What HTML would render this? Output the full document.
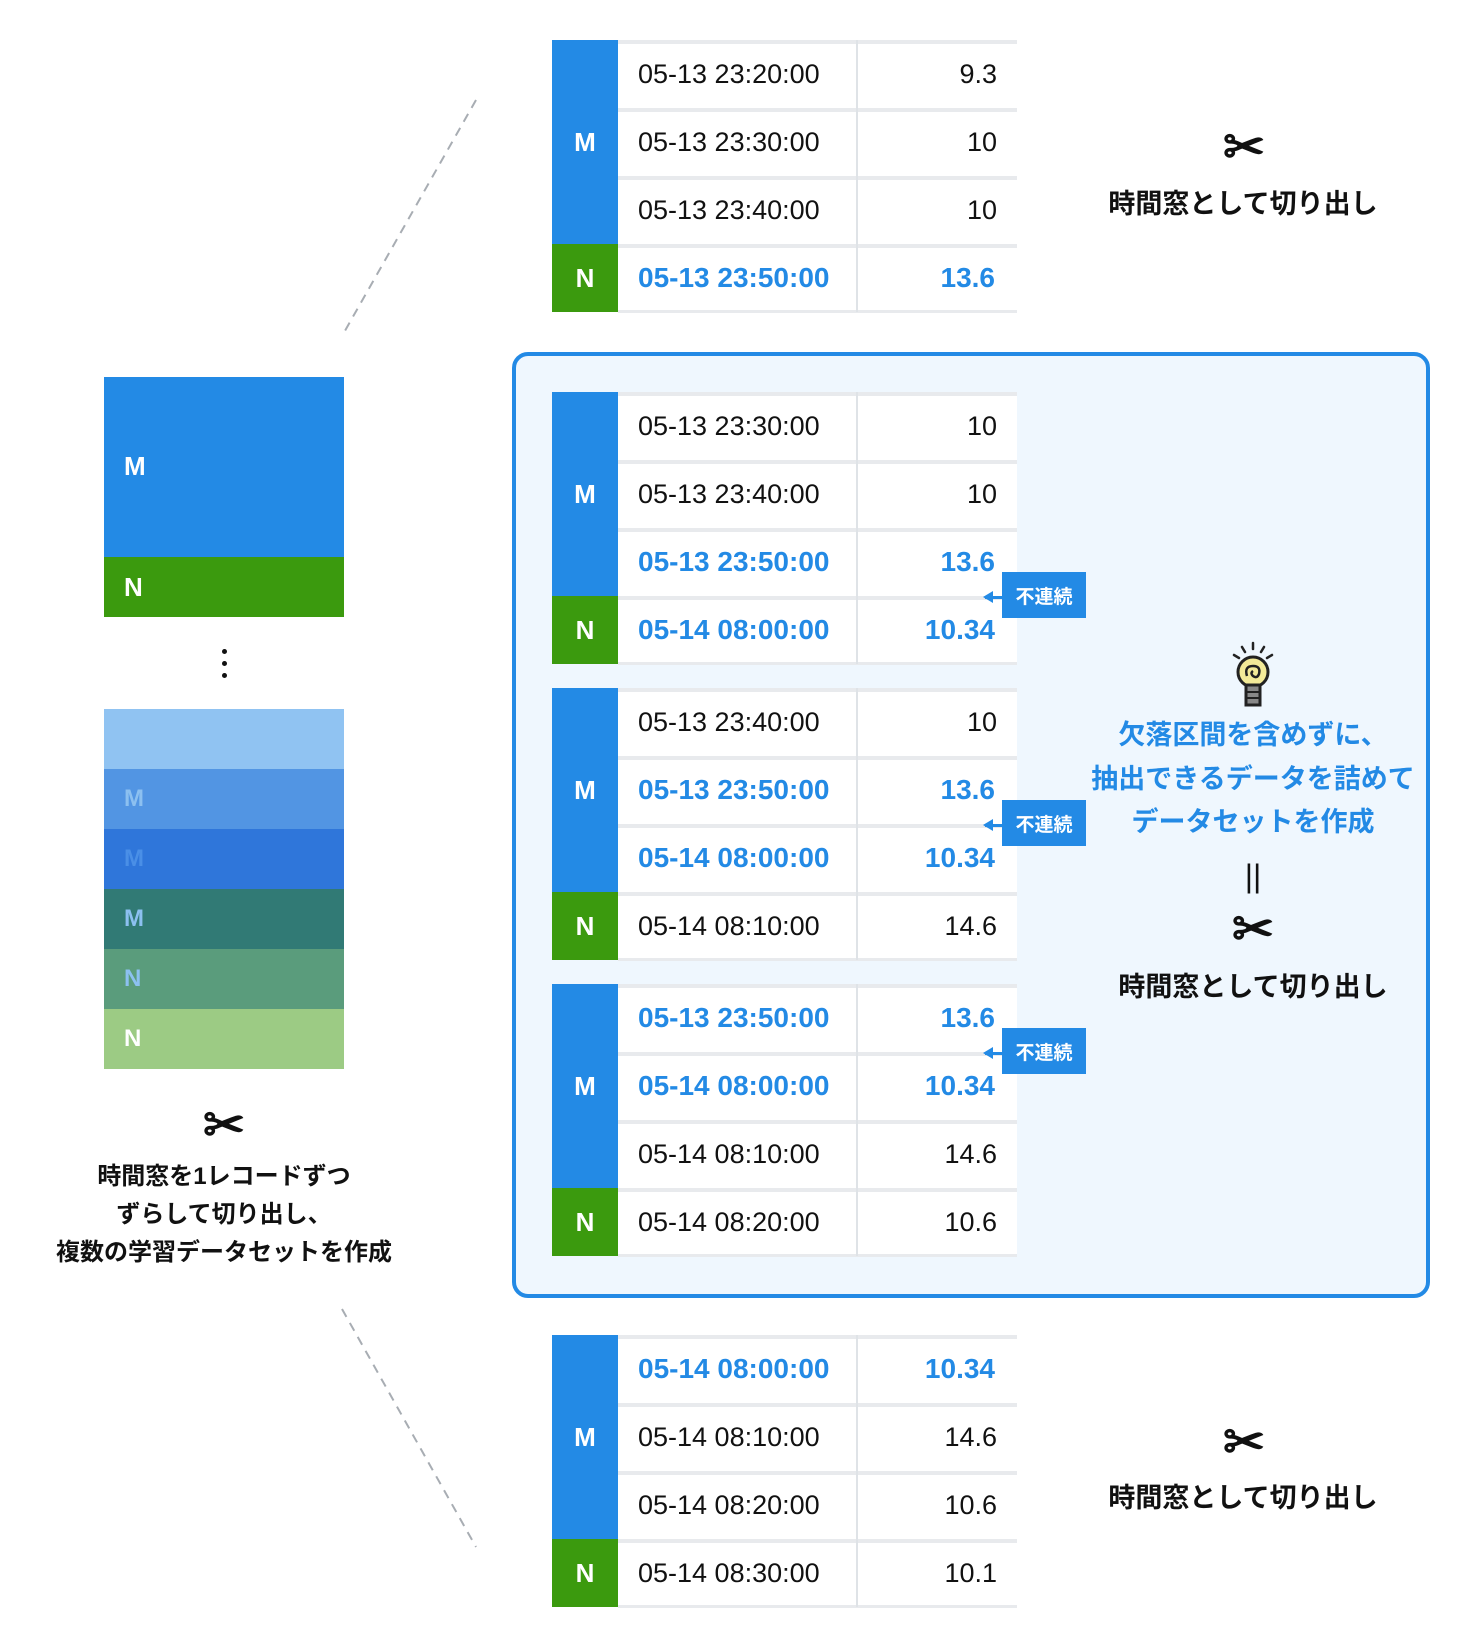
<!DOCTYPE html>
<html><head><meta charset="utf-8"><style>
body{margin:0;width:1472px;height:1648px;background:#fff;position:relative;overflow:hidden;font-family:"Liberation Sans","Noto Sans CJK JP",sans-serif;}
.a{position:absolute;}
.lab{position:absolute;left:552px;width:66px;color:#fff;font-weight:bold;font-size:26px;display:flex;align-items:center;justify-content:center;}
.M{background:#238ae5;}.N{background:#3b9a0e;}
.row{position:absolute;left:618px;width:399px;height:64px;border-top:4px solid #e8eaed;background:#fff;font-size:27px;color:#111;}
.row .t{position:absolute;left:20px;top:-2px;line-height:64px;}
.row .v{position:absolute;right:20px;top:-2px;line-height:64px;}
.row.b{color:#238ae5;font-weight:bold;font-size:28px;}
.row.b .v{right:22px;}
.bot{position:absolute;left:618px;width:399px;height:3px;background:#e8eaed;}
.div{position:absolute;left:856px;width:2px;background:#dfe3e7;}
.tag{position:absolute;left:1002px;width:84px;height:46px;background:#238ae5;color:#fff;font-size:19px;font-weight:bold;display:flex;align-items:center;justify-content:center;}
.arr{position:absolute;left:985px;width:17px;height:3px;background:#238ae5;}
.arr:before{content:"";position:absolute;left:-2px;top:-5px;border-right:10px solid #238ae5;border-top:6.5px solid transparent;border-bottom:6.5px solid transparent;}
.sc{position:absolute;font-family:"DejaVu Sans",sans-serif;font-size:50px;color:#111;text-align:center;width:80px;font-weight:bold;-webkit-text-stroke:1.5px #111;}
.ct{position:absolute;text-align:center;font-weight:bold;color:#111;}
.st{position:absolute;left:104px;width:240px;height:60px;}
.sl{position:absolute;left:20px;top:0;line-height:60px;font-size:24px;font-weight:bold;}
</style></head><body>

<svg class="a" style="left:0;top:0" width="1472" height="1648">
<line x1="476" y1="100" x2="342" y2="336" stroke="#a8adb3" stroke-width="2" stroke-dasharray="9,7"/>
<line x1="342" y1="1309" x2="476" y2="1547" stroke="#a8adb3" stroke-width="2" stroke-dasharray="9,7"/>
</svg>

<div class="a M" style="left:104px;top:377px;width:240px;height:180px"></div>
<div class="a N" style="left:104px;top:557px;width:240px;height:60px"></div>
<div class="a" style="left:124px;top:451px;color:#fff;font-weight:bold;font-size:26px">M</div>
<div class="a" style="left:124px;top:572px;color:#fff;font-weight:bold;font-size:26px">N</div>
<div class="a" style="left:222px;top:649px;width:5px;height:5px;border-radius:50%;background:#111"></div>
<div class="a" style="left:222px;top:661px;width:5px;height:5px;border-radius:50%;background:#111"></div>
<div class="a" style="left:222px;top:673px;width:5px;height:5px;border-radius:50%;background:#111"></div>
<div class="st" style="top:709px;background:#90c3f2"></div>
<div class="st" style="top:769px;background:#5295e3"><span class="sl" style="color:#8cc0f0">M</span></div>
<div class="st" style="top:829px;background:#2f76da"><span class="sl" style="color:#4a8fe6">M</span></div>
<div class="st" style="top:889px;background:#317a75"><span class="sl" style="color:#8cc0f0">M</span></div>
<div class="st" style="top:949px;background:#5a9c7c"><span class="sl" style="color:#8cc0f0">N</span></div>
<div class="st" style="top:1009px;background:#9ccb84"><span class="sl" style="color:#fff">N</span></div>
<div class="sc" style="left:184px;top:1096px">✂</div>
<div class="ct" style="left:24px;width:400px;top:1158px;font-size:24px;line-height:38px">時間窓を1レコードずつ<br>ずらして切り出し、<br>複数の学習データセットを作成</div>

<div class="lab M" style="top:40px;height:204px">M</div>
<div class="lab N" style="top:244px;height:68px">N</div>
<div class="row" style="top:40px"><span class="t">05-13 23:20:00</span><span class="v">9.3</span></div>
<div class="row" style="top:108px"><span class="t">05-13 23:30:00</span><span class="v">10</span></div>
<div class="row" style="top:176px"><span class="t">05-13 23:40:00</span><span class="v">10</span></div>
<div class="row b" style="top:244px"><span class="t">05-13 23:50:00</span><span class="v">13.6</span></div>
<div class="bot" style="top:310px"></div>
<div class="div" style="top:40px;height:272px"></div>
<div class="sc" style="left:1204px;top:118px">✂</div>
<div class="ct" style="left:1093px;width:300px;top:182px;font-size:27px">時間窓として切り出し</div>

<div class="a" style="left:512px;top:352px;width:910px;height:938px;border:4px solid #238ae5;border-radius:16px;background:#eff7fe"></div>

<div class="lab M" style="top:392px;height:204px">M</div>
<div class="lab N" style="top:596px;height:68px">N</div>
<div class="row" style="top:392px"><span class="t">05-13 23:30:00</span><span class="v">10</span></div>
<div class="row" style="top:460px"><span class="t">05-13 23:40:00</span><span class="v">10</span></div>
<div class="row b" style="top:528px"><span class="t">05-13 23:50:00</span><span class="v">13.6</span></div>
<div class="row b" style="top:596px"><span class="t">05-14 08:00:00</span><span class="v">10.34</span></div>
<div class="bot" style="top:662px"></div>
<div class="div" style="top:392px;height:272px"></div>
<div class="arr" style="top:596px"></div><div class="tag" style="top:572px">不連続</div>

<div class="lab M" style="top:688px;height:204px">M</div>
<div class="lab N" style="top:892px;height:68px">N</div>
<div class="row" style="top:688px"><span class="t">05-13 23:40:00</span><span class="v">10</span></div>
<div class="row b" style="top:756px"><span class="t">05-13 23:50:00</span><span class="v">13.6</span></div>
<div class="row b" style="top:824px"><span class="t">05-14 08:00:00</span><span class="v">10.34</span></div>
<div class="row" style="top:892px"><span class="t">05-14 08:10:00</span><span class="v">14.6</span></div>
<div class="bot" style="top:958px"></div>
<div class="div" style="top:688px;height:272px"></div>
<div class="arr" style="top:824px"></div><div class="tag" style="top:800px">不連続</div>

<div class="lab M" style="top:984px;height:204px">M</div>
<div class="lab N" style="top:1188px;height:68px">N</div>
<div class="row b" style="top:984px"><span class="t">05-13 23:50:00</span><span class="v">13.6</span></div>
<div class="row b" style="top:1052px"><span class="t">05-14 08:00:00</span><span class="v">10.34</span></div>
<div class="row" style="top:1120px"><span class="t">05-14 08:10:00</span><span class="v">14.6</span></div>
<div class="row" style="top:1188px"><span class="t">05-14 08:20:00</span><span class="v">10.6</span></div>
<div class="bot" style="top:1254px"></div>
<div class="div" style="top:984px;height:272px"></div>
<div class="arr" style="top:1052px"></div><div class="tag" style="top:1028px">不連続</div>

<svg class="a" style="left:1223px;top:640px" width="60" height="70">
<g stroke="#222" stroke-width="2.5" stroke-linecap="round">
<line x1="30" y1="3" x2="30" y2="9"/><line x1="19" y1="7" x2="22" y2="12"/><line x1="41" y1="7" x2="38" y2="12"/>
<line x1="11" y1="15" x2="16" y2="18"/><line x1="49" y1="15" x2="44" y2="18"/></g>
<circle cx="30" cy="32" r="15" fill="#f3ea98" stroke="#222" stroke-width="3"/>
<path d="M24 36 q-3 -10 6 -10 q8 0 6 8 q-2 5 -6 2 q-3-3 0-5" fill="none" stroke="#222" stroke-width="2.5"/>
<rect x="23" y="45" width="14" height="20" fill="#888" stroke="#222" stroke-width="3"/>
<line x1="23" y1="52" x2="37" y2="52" stroke="#222" stroke-width="2"/><line x1="23" y1="58" x2="37" y2="58" stroke="#222" stroke-width="2"/>
</svg>
<div class="ct" style="left:1073px;width:360px;top:714px;font-size:27px;line-height:43.5px;color:#238ae5">欠落区間を含めずに、<br>抽出できるデータを詰めて<br>データセットを作成</div>
<div class="ct" style="left:1213px;width:80px;top:858px;font-size:32px;font-weight:normal">||</div>
<div class="sc" style="left:1213px;top:900px">✂</div>
<div class="ct" style="left:1098px;width:310px;top:965px;font-size:27px">時間窓として切り出し</div>

<div class="lab M" style="top:1335px;height:204px">M</div>
<div class="lab N" style="top:1539px;height:68px">N</div>
<div class="row b" style="top:1335px"><span class="t">05-14 08:00:00</span><span class="v">10.34</span></div>
<div class="row" style="top:1403px"><span class="t">05-14 08:10:00</span><span class="v">14.6</span></div>
<div class="row" style="top:1471px"><span class="t">05-14 08:20:00</span><span class="v">10.6</span></div>
<div class="row" style="top:1539px"><span class="t">05-14 08:30:00</span><span class="v">10.1</span></div>
<div class="bot" style="top:1605px"></div>
<div class="div" style="top:1335px;height:272px"></div>
<div class="sc" style="left:1204px;top:1413px">✂</div>
<div class="ct" style="left:1093px;width:300px;top:1476px;font-size:27px">時間窓として切り出し</div>

</body></html>
